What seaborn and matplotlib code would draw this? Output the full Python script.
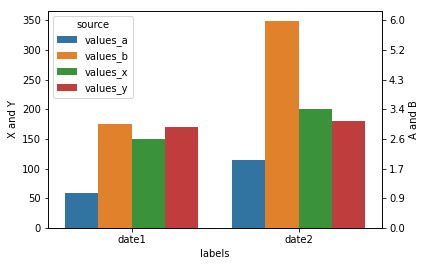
import matplotlib
matplotlib.use("Agg")
import matplotlib.pyplot as plt
import seaborn as sns
import pandas as pd

labels = ["date1", "date2"]
values_a = [59, 115]
values_b = [175, 348]
values_x = [150, 200]
values_y = [170, 180]
sources = ["values_a", "values_b", "values_x", "values_y"]
right_tick_labels = ["0.0", "0.9", "1.7", "2.6", "3.4", "4.3", "5.2", "6.0"]

rows = []
for name, vals in zip(sources, [values_a, values_b, values_x, values_y]):
    for lab, v in zip(labels, vals):
        rows.append({"labels": lab, "source": name, "value": v})
df = pd.DataFrame(rows)

fig = plt.figure(figsize=(426 / 72, 266 / 72), dpi=72)
ax = fig.add_axes([48 / 426, 1 - 228 / 266, (382 - 48) / 426, (228 - 11) / 266])
sns.barplot(data=df, x="labels", y="value", hue="source", ax=ax)
ax.set_ylabel("X and Y")
ax.set_xlabel("labels")
ax.legend(title="source", loc="upper left")

ax2 = ax.twinx()
ax2.set_ylim(ax.get_ylim())
left_ticks = [t for t in ax.get_yticks() if t <= ax.get_ylim()[1]]
ax2.set_yticks(left_ticks)
ax2.set_yticklabels(right_tick_labels[:len(left_ticks)])
ax2.set_ylabel("A and B")

fig.savefig("out.png", dpi=72)
